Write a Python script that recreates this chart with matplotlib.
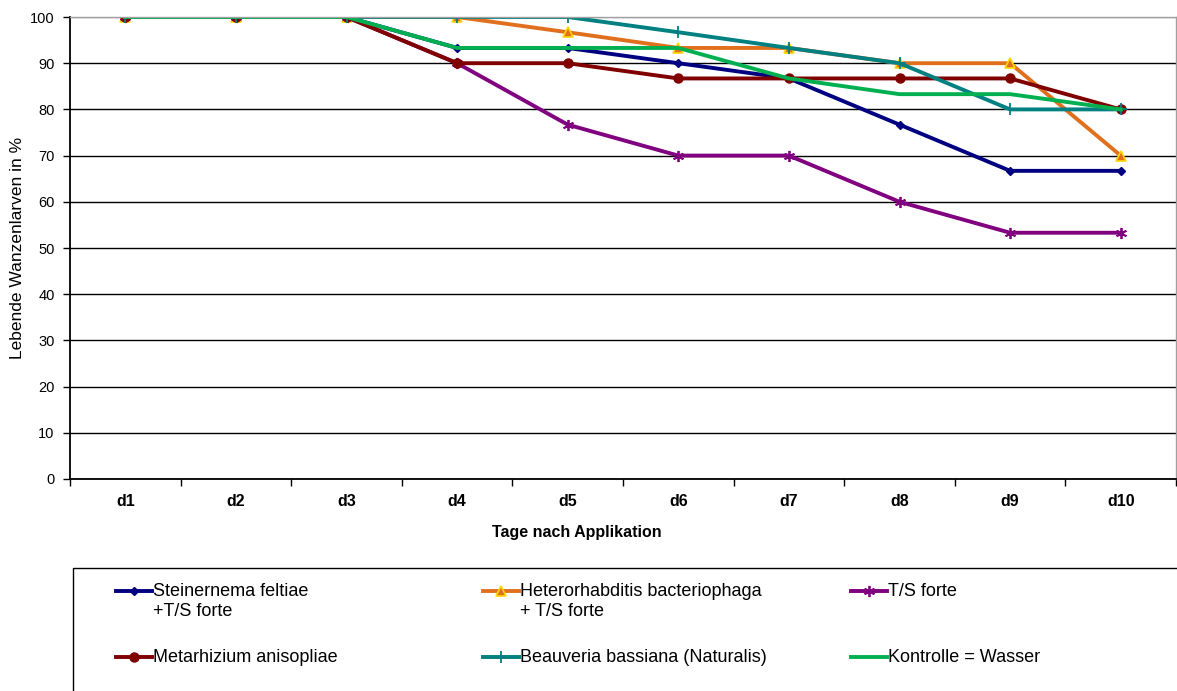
import matplotlib
matplotlib.use("Agg")
import matplotlib.pyplot as plt
from matplotlib.lines import Line2D
from matplotlib.patches import Rectangle
import numpy as np

plt.rcParams['font.family'] = ['Liberation Sans', 'DejaVu Sans']

# data
days = ["d1", "d2", "d3", "d4", "d5", "d6", "d7", "d8", "d9", "d10"]
steinernema = [100, 100, 100, 93.3, 93.3, 90, 86.7, 76.7, 66.7, 66.7]
heterorhabditis = [100, 100, 100, 100, 96.7, 93.3, 93.3, 90, 90, 70]
ts_forte = [100, 100, 100, 90, 76.7, 70, 70, 60, 53.3, 53.3]
metarhizium = [100, 100, 100, 90, 90, 86.7, 86.7, 86.7, 86.7, 80]
beauveria = [100, 100, 100, 100, 100, 96.7, 93.3, 90, 80, 80]
kontrolle = [100, 100, 100, 93.3, 93.3, 93.3, 86.7, 83.3, 83.3, 80]

labels = ["Steinernema feltiae\n+T/S forte",
          "Heterorhabditis bacteriophaga\n+ T/S forte",
          "T/S forte",
          "Metarhizium anisopliae",
          "Beauveria bassiana (Naturalis)",
          "Kontrolle = Wasser"]
series = [steinernema, heterorhabditis, ts_forte, metarhizium, beauveria, kontrolle]

# line / marker styles per series
styles = [
    dict(color="#000080", marker="D", ms=4.5, mfc="#000080", mec="#000080"),
    dict(color="#E0701E", marker="^", ms=6.5, mfc="#E0701E", mec="#FFD700", mew=1.2),
    dict(color="#800080", marker=(6, 2, 0), ms=8, mfc="#800080", mec="#800080", mew=1.3),
    dict(color="#800000", marker="o", ms=6.5, mfc="#800000", mec="#800000"),
    dict(color="#008080", marker="+", ms=9, mfc="#008080", mec="#008080", mew=1.3),
    dict(color="#00B050", marker="None"),
]

W, H = 1177, 691
fig = plt.figure(figsize=(W / 100, H / 100), dpi=100)
ax = fig.add_axes([70 / W, 1 - 479 / H, 1106 / W, 462 / H])

x = np.arange(len(days))
for vals, st in zip(series, styles):
    ax.plot(x, vals, lw=2.8, **st)

ax.set_xlim(-0.5, len(days) - 0.5)
ax.set_ylim(0, 100)
ax.set_yticks(range(0, 101, 10))
ax.tick_params(axis="y", labelsize=10.5, length=5, width=1, pad=6, direction="out", colors="black")
ax.yaxis.grid(True, color="black", lw=1)
ax.get_ygridlines()[-1].set_color("#A0A0A0")
ax.set_axisbelow(True)

ax.set_xticks(x)
ax.set_xticklabels(days, fontsize=11.5, fontweight="bold")
ax.set_xticks(np.arange(-0.5, len(days)), minor=True)
ax.tick_params(axis="x", which="major", length=0, pad=11)
ax.tick_params(axis="x", which="minor", length=5, width=1, direction="out")

for s in ["left", "bottom"]:
    ax.spines[s].set_color("black")
    ax.spines[s].set_linewidth(1.3)
for s in ["top", "right"]:
    ax.spines[s].set_color("#A0A0A0")
    ax.spines[s].set_linewidth(1)

ax.set_ylabel("Lebende Wanzenlarven in %", fontsize=12.5)
ax.yaxis.set_label_coords(-45 / 1106, 0.5)
ax.set_xlabel("Tage nach Applikation", fontsize=11.5, fontweight="bold")
ax.xaxis.set_label_coords((577 - 70) / 1106, -46 / 462)

# legend box below the chart
fig.add_artist(Rectangle((73 / W, -0.02), (W + 10 - 73) / W, 0.02 + 1 - 568 / H,
                         transform=fig.transFigure, fill=False, ec="black", lw=1))
col_x = [116, 483, 851]
row_y = [591, 657]
for i, (lab, st) in enumerate(zip(labels, styles)):
    cx = col_x[i % 3]
    cy = row_y[i // 3]
    yf = 1 - cy / H
    fig.add_artist(Line2D([cx / W, (cx + 36) / W], [yf, yf], transform=fig.transFigure,
                          lw=2.8, color=st["color"]))
    m = {k: v for k, v in st.items() if k != "color"}
    fig.add_artist(Line2D([(cx + 18) / W], [yf], transform=fig.transFigure,
                          color=st["color"], ls="none", **m))
    for k, part in enumerate(lab.split("\n")):
        fig.text((cx + 37) / W, 1 - (cy + 5 + 20 * k) / H, part, fontsize=13,
                 va="baseline", ha="left")

fig.savefig("out.png", dpi=100)
